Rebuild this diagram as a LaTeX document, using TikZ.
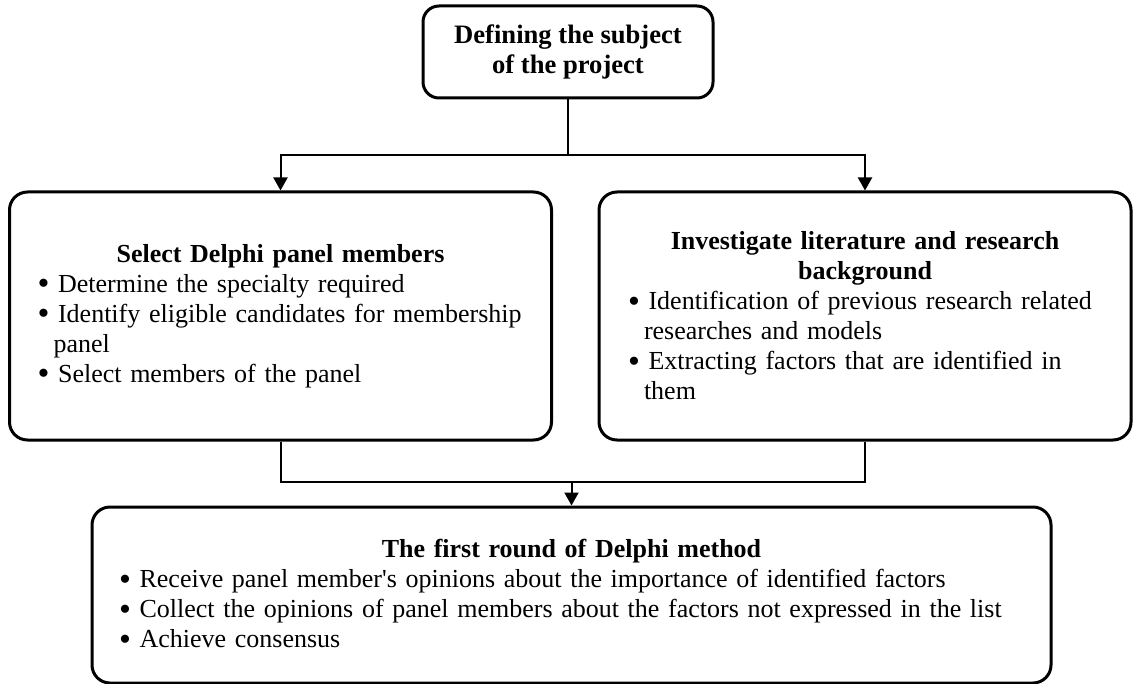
\documentclass[tikz,border=0pt]{standalone}
\usepackage{fontspec}
\setmainfont{Liberation Serif}[Ligatures=TeXOff]
\usepackage{tikz}
\usetikzlibrary{arrows.meta, positioning}
\tikzstyle{base} = [rectangle, draw=black, line width=1.5pt, font=\fontsize{13}{15}\selectfont]
\tikzstyle{head} = [base, rounded corners=8pt, minimum width=145pt, minimum height=46pt, align=center, font=\fontsize{13.3}{15}\selectfont\bfseries]
\tikzstyle{panel} = [base, rounded corners=9pt, inner ysep=0pt, align=left, execute at begin node={\setlength{\parindent}{0pt}\hyphenpenalty=10000}]
\tikzstyle{line} = [line width=1pt]
\tikzstyle{arrow} = [line width=1pt,-{Triangle[length=6.5pt,width=7pt]}]
\newcommand{\blt}[1]{\mbox{\raisebox{-1.2pt}{\fontsize{17}{15}\selectfont\textbullet}\ #1}}
\newcommand{\cont}[1]{\mbox{\hspace*{8pt}#1}}

\begin{document}
\begin{tikzpicture}
	\useasboundingbox (0,0) rectangle (566.5pt,-342pt);
	\node (subject) [head] at (284pt,-26pt) {Defining the subject\\of the project};
	\node (select) [panel, minimum width=271pt, minimum height=124pt, inner xsep=14pt, text width=243pt] at (140.25pt,-158pt)
		{{\centering\bfseries Select Delphi panel members\par}
		\blt{Determine the specialty required}\\
		\blt{Identify eligible candidates for membership}\\
		\cont{panel}\\
		\blt{Select members of the panel}};
	\node (literature) [panel, minimum width=266pt, minimum height=124pt, inner xsep=14.5pt, text width=237pt] at (432.5pt,-158pt)
		{{\centering\bfseries Investigate literature and research\\background\par}
		\blt{Identification of previous research related}\\
		\cont{researches and models}\\
		\blt{Extracting factors that are identified in}\\
		\cont{them}};
	\node (round) [panel, minimum width=479.5pt, minimum height=88pt, inner xsep=13.5pt, text width=452.5pt] at (285.75pt,-297.5pt)
		{{\centering\bfseries The first round of Delphi method\par}
		\blt{Receive panel member's opinions about the importance of identified factors}\\
		\blt{Collect the opinions of panel members about the factors not expressed in the list}\\
		\blt{Achieve consensus}};
	\coordinate [below=28pt of subject] (split);
	\coordinate [above=12pt of round] (join);
	\draw [line] (subject) -- (split);
	\draw [arrow] (split) -| (select);
	\draw [arrow] (split) -| (literature);
	\draw [line] (select.south) |- (join) -| (literature.south);
	\draw [arrow] (join) -- (round);
\end{tikzpicture}
\end{document}
